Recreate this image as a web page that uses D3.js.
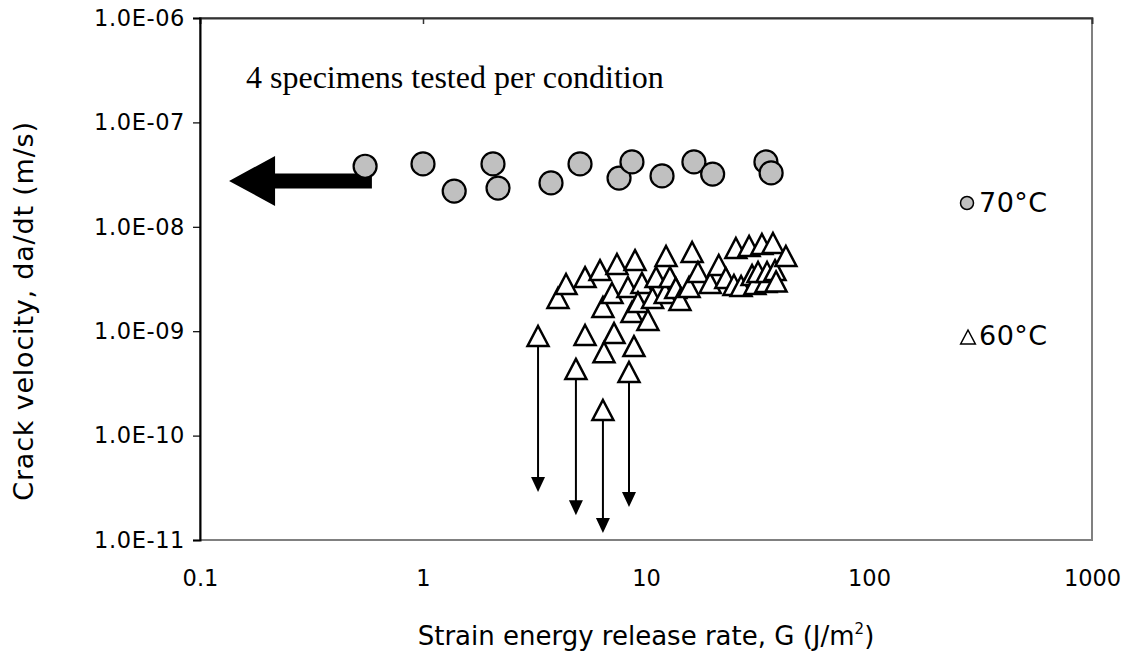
<!DOCTYPE html>
<html>
<head>
<meta charset="utf-8">
<script src="https://cdn.jsdelivr.net/npm/d3@7"></script>
<style>
  body { margin: 0; background: #fff; }
</style>
</head>
<body>
<div id="wrapper"></div>
<script>
// Data
// 70°C series: strain energy release rate G (J/m2) and crack velocity (m/s)
const g70 = [0.55, 1.0, 1.38, 2.06, 2.17, 3.75, 5.06, 7.57, 8.65, 11.8, 16.4, 19.9, 34.5, 36.4];
const v70 = [3.8e-8, 4.0e-8, 2.2e-8, 4.0e-8, 2.35e-8, 2.63e-8, 4.0e-8, 2.93e-8, 4.18e-8, 3.07e-8, 4.18e-8, 3.2e-8, 4.18e-8, 3.28e-8];

// 60°C series
const g60 = [4.03, 4.38, 5.33, 5.33, 6.22, 6.48, 6.41, 7.04, 7.19, 7.41, 8.30, 8.65, 8.83, 8.93, 9.59, 9.2,
  10.2, 10.7, 11.1, 12.2, 12.3, 12.8, 13.6, 14.2, 15.6, 16.1, 17.1, 19.4, 21.2, 22.8, 24.8, 25.3,
  26.7, 29.0, 29.9, 30.8, 31.8, 33.1, 34.5, 34.9, 37.1, 37.9, 38.3, 42.4];
const v60 = [2.08e-9, 2.83e-9, 3.3e-9, 9.2e-10, 3.85e-9, 6.3e-10, 1.71e-9, 2.32e-9, 9.6e-10, 4.4e-9, 2.65e-9, 1.53e-9, 7.2e-10, 4.8e-9, 2.9e-9, 1.9e-9,
  1.28e-9, 2.08e-9, 3.3e-9, 2.32e-9, 5.25e-9, 3.3e-9, 2.59e-9, 1.99e-9, 2.65e-9, 5.74e-9, 3.69e-9, 2.9e-9, 4.31e-9, 3.23e-9, 2.77e-9, 6.27e-9,
  2.71e-9, 6.55e-9, 3.45e-9, 2.83e-9, 3.69e-9, 6.84e-9, 2.96e-9, 3.69e-9, 7.0e-9, 3.85e-9, 3.0e-9, 5.25e-9];

// 60°C points that only give an upper bound (drawn with a downward arrow)
const gBound = [3.28, 4.85, 6.41, 8.39];
const vBound = [9.0e-10, 4.35e-10, 1.76e-10, 4.07e-10];
const vBoundTip = [2.88e-11, 1.73e-11, 1.17e-11, 2.07e-11];

// Big arrow towards lower G for the 70°C series
const bigArrowG = [0.59, 0.135];
const bigArrowV = 2.75e-8;

// Axis ticks
const xTicks = [0.1, 1, 10, 100, 1000];
const xTickLabels = ["0.1", "1", "10", "100", "1000"];
const yTicks = [1e-6, 1e-7, 1e-8, 1e-9, 1e-10, 1e-11];
const yTickLabels = ["1.0E-06", "1.0E-07", "1.0E-08", "1.0E-09", "1.0E-10", "1.0E-11"];

// Sizes
const width = 1132;
const height = 655;
const margin = {left: 200, right: 40, top: 18, bottom: 115};
const sans = "DejaVu Sans, Verdana, sans-serif";

const svg = d3.select("#wrapper").append("svg")
  .attr("width", width)
  .attr("height", height)
  .attr("font-family", sans);

// Log scales
const x = d3.scaleLog().domain([0.1, 1000]).range([margin.left, width - margin.right]);
const y = d3.scaleLog().domain([1e-11, 1e-6]).range([height - margin.bottom, margin.top]);

// Plot area border
svg.append("rect")
  .attr("x", x(0.1))
  .attr("y", y(1e-6))
  .attr("width", x(1000) - x(0.1))
  .attr("height", y(1e-11) - y(1e-6))
  .attr("fill", "none")
  .attr("stroke", "#808080")
  .attr("stroke-width", 2);

// Top line (x-axis crossing at 1E-06) with its single visible tick
const topAxis = svg.append("g")
  .attr("transform", `translate(0,${y(1e-6)})`)
  .call(d3.axisBottom(x).tickValues([1]).tickSize(6).tickFormat(""));
topAxis.select(".domain").attr("stroke", "#333").attr("stroke-width", 2);
topAxis.selectAll(".tick line").attr("stroke", "#333").attr("stroke-width", 1.5);

// Y axis
const yAxis = svg.append("g")
  .attr("transform", `translate(${x(0.1)},0)`)
  .call(d3.axisLeft(y).tickValues(yTicks).tickSize(7).tickPadding(8)
    .tickFormat((d, i) => yTickLabels[i]));
yAxis.attr("font-size", 22.5).attr("font-family", sans);
yAxis.select(".domain").attr("stroke", "#000").attr("stroke-width", 2);
yAxis.selectAll(".tick line").attr("stroke", "#000").attr("stroke-width", 1.2);
yAxis.selectAll(".tick text").attr("fill", "#000").attr("letter-spacing", 0.6);

// X tick labels (no tick marks at the bottom)
const xAxis = svg.append("g")
  .attr("transform", `translate(0,${y(1e-11)})`)
  .call(d3.axisBottom(x).tickValues(xTicks).tickSize(0).tickPadding(30)
    .tickFormat((d, i) => xTickLabels[i]));
xAxis.attr("font-size", 22.5).attr("font-family", sans);
xAxis.select(".domain").remove();
xAxis.selectAll(".tick text").attr("fill", "#000");

// Axis titles
const xTitle = svg.append("text")
  .attr("x", (x(0.1) + x(1000)) / 2)
  .attr("y", 645)
  .attr("text-anchor", "middle")
  .attr("font-size", 26);
xTitle.append("tspan").text("Strain energy release rate, G (J/m");
xTitle.append("tspan").attr("font-size", 15).attr("dy", -11).text("2");
xTitle.append("tspan").attr("dy", 11).text(")");

svg.append("text")
  .attr("transform", "translate(33,311) rotate(-90)")
  .attr("text-anchor", "middle")
  .attr("font-size", 27)
  .attr("letter-spacing", 0.8)
  .text("Crack velocity, da/dt (m/s)");

// Note inside the plot
svg.append("text")
  .attr("x", 246)
  .attr("y", 88)
  .attr("font-family", "Liberation Serif, Times New Roman, serif")
  .attr("font-size", 32)
  .text("4 specimens tested per condition");

// Big arrow (pointing to lower G)
const ax0 = x(bigArrowG[0]), ax1 = x(bigArrowG[1]), ay = y(bigArrowV);
svg.append("path")
  .attr("d", `M${ax0},${ay - 7.5} L${ax1 + 46},${ay - 7.5} L${ax1 + 46},${ay - 25} L${ax1},${ay}
    L${ax1 + 46},${ay + 25} L${ax1 + 46},${ay + 7.5} L${ax0},${ay + 7.5} Z`)
  .attr("fill", "#000");

// Triangle marker path
const tri = s => `M0,${-s} L${s * 1.05},${s} L${-s * 1.05},${s} Z`;

// Vertical arrows under the bounded 60°C points
const boundG = svg.append("g");
gBound.forEach((g, i) => {
  const px = x(g);
  const tipY = y(vBoundTip[i]);
  boundG.append("line")
    .attr("x1", px).attr("x2", px)
    .attr("y1", y(vBound[i])).attr("y2", tipY - 10)
    .attr("stroke", "#000").attr("stroke-width", 2);
  boundG.append("path")
    .attr("d", `M${px - 7},${tipY - 15} L${px + 7},${tipY - 15} L${px},${tipY} Z`)
    .attr("fill", "#000");
});

// 70°C circles
svg.append("g").selectAll("circle")
  .data(g70.map((g, i) => [g, v70[i]]))
  .join("circle")
  .attr("cx", d => x(d[0]))
  .attr("cy", d => y(d[1]))
  .attr("r", 11.5)
  .attr("fill", "#c0c0c0")
  .attr("stroke", "#000")
  .attr("stroke-width", 2.2);

// 60°C triangles (bounded ones first, then the rest)
const tri60 = gBound.map((g, i) => [g, vBound[i]])
  .concat(g60.map((g, i) => [g, v60[i]]));
svg.append("g").selectAll("path")
  .data(tri60)
  .join("path")
  .attr("transform", d => `translate(${x(d[0])},${y(d[1])})`)
  .attr("d", tri(10))
  .attr("fill", "#fff")
  .attr("stroke", "#000")
  .attr("stroke-width", 2.5)
  .attr("stroke-linejoin", "miter");

// Legend
const legend = svg.append("g").attr("font-size", 27);
legend.append("circle")
  .attr("cx", 967).attr("cy", 203).attr("r", 6.5)
  .attr("fill", "#c0c0c0").attr("stroke", "#000").attr("stroke-width", 1.5);
legend.append("text")
  .attr("x", 979).attr("y", 212)
  .attr("letter-spacing", 0.5)
  .text("70°C");
legend.append("path")
  .attr("transform", "translate(968,337)")
  .attr("d", tri(7))
  .attr("fill", "#fff").attr("stroke", "#000").attr("stroke-width", 1.5);
legend.append("text")
  .attr("x", 979).attr("y", 345)
  .attr("letter-spacing", 0.5)
  .text("60°C");
</script>
</body>
</html>
